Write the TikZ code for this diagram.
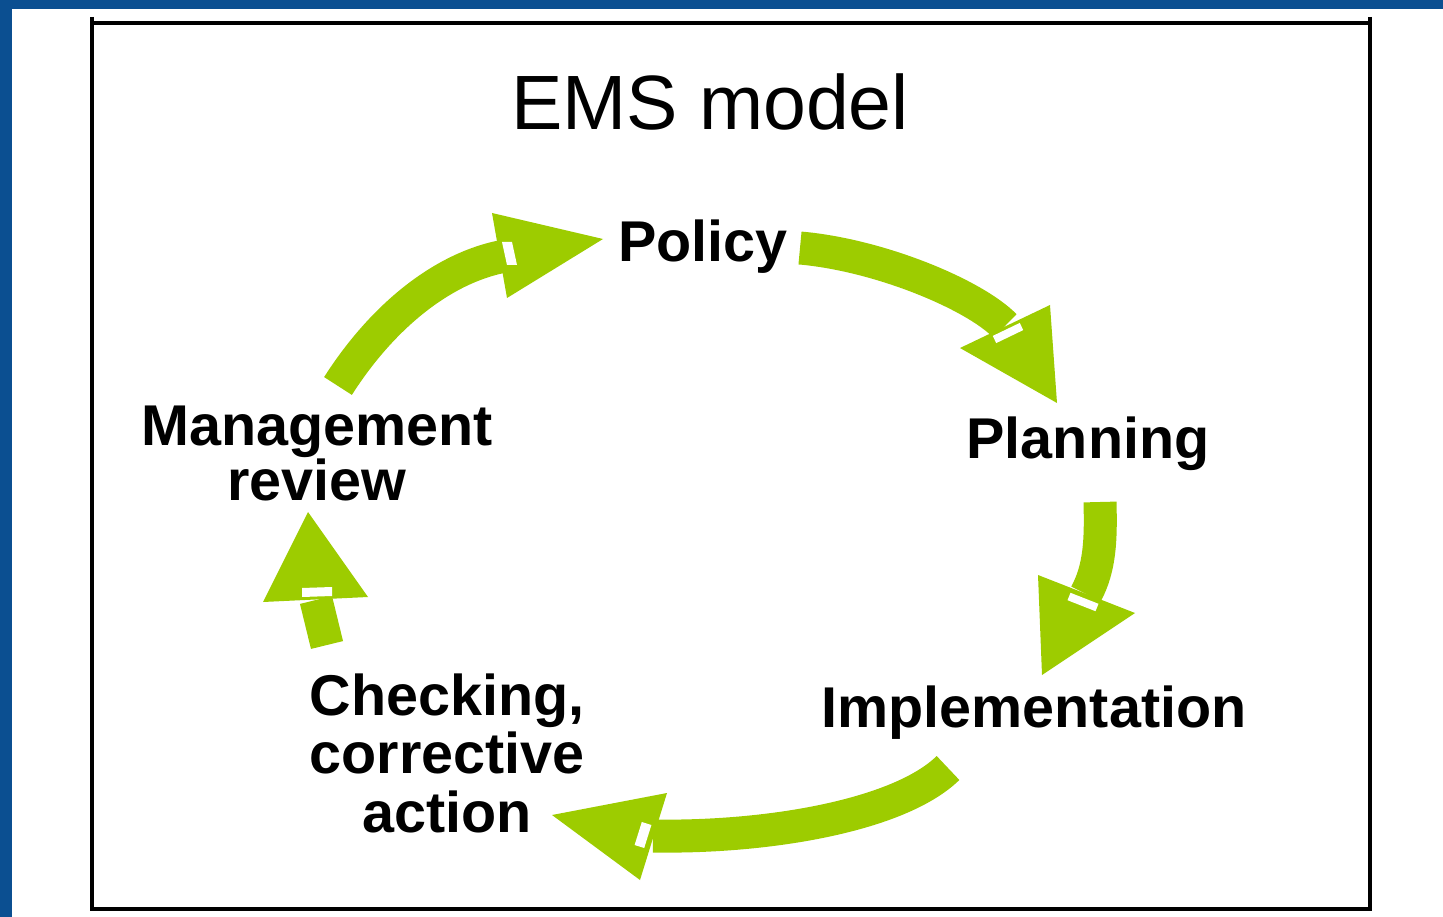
\documentclass[tikz,border=0pt]{standalone}
\usepackage{fontspec}
\setmainfont{Liberation Sans}
\definecolor{emsgreen}{RGB}{157,204,0}
\definecolor{emsblue}{RGB}{11,79,145}
\begin{document}
\begin{tikzpicture}[x=1pt,y=-1pt,
  lbl/.style={font=\fontsize{57.5}{58.5}\selectfont\bfseries, inner sep=0pt, align=center},
  shaft/.style={draw=emsgreen, line width=33pt},
  head/.style={fill=emsgreen},
  notch/.style={fill=white}]
\useasboundingbox (0,0) rectangle (1443,917);
\fill[emsblue] (0,0) rectangle (1443,9);
\fill[emsblue] (0,0) rectangle (12,917);
\draw[line width=4pt] (92,23) rectangle (1370,909);
\draw[line width=4pt] (92,17) -- (92,23) (1370,17) -- (1370,23);

\node[font=\fontsize{77}{77}\selectfont, inner sep=0pt, anchor=base] (title) at (710,130) {EMS model};
\node[lbl, anchor=base] (policy) at (703,262) {Policy};
\node[lbl, anchor=base] (planning) at (1088,458) {Planning};
\node[lbl, anchor=base] (impl) at (1034,727) {Implementation};
\node[lbl, font=\fontsize{57.5}{55}\selectfont\bfseries, anchor=base] (mgmt) at (317,500) {Management\\review};
\node[lbl, anchor=base] (check) at (447,832) {Checking,\\corrective\\action};

% arrow 1: review -> policy
\coordinate (a1s) at (338,386);
\coordinate (a1e) at (505,256);
\draw[shaft] (a1s) .. controls (380,320) and (440,268) .. (a1e);
\fill[head] (492,213) -- (603,239) -- (507,298) -- cycle;
\fill[notch] (502,242) -- (512,242) -- (517,265) -- (507,265) -- cycle;

% arrow 2: policy -> planning
\coordinate (a2s) at (800,248);
\coordinate (a2e) at (1005,326);
\draw[shaft] (a2s) .. controls (880,255) and (975,295) .. (a2e);
\fill[head] (960,348) -- (1050,305) -- (1057,403) -- cycle;
\fill[notch] (992.8,335.9) -- (1019.8,322.9) -- (1023.2,330.1) -- (996.2,343.1) -- cycle;

% arrow 3: planning -> implementation
\coordinate (a3s) at (1100,502);
\coordinate (a3e) at (1086,594);
\draw[shaft] (a3s) .. controls (1101,540) and (1100,568) .. (a3e);
\fill[head] (1038,575) -- (1135,613) -- (1042,675) -- cycle;
\fill[notch] (1070.5,592.8) -- (1098.5,603.8) -- (1095.5,611.2) -- (1067.5,600.2) -- cycle;

% arrow 4: implementation -> checking
\coordinate (a4s) at (948,768);
\coordinate (a4e) at (653,836);
\draw[shaft] (a4s) .. controls (900,815) and (770,838) .. (a4e);
\fill[head] (667,793) -- (552,815) -- (640,880) -- cycle;
\fill[notch] (641.8,822) -- (651.4,825) -- (644.2,848) -- (634.6,845) -- cycle;

% arrow 5: checking -> review
\coordinate (a5s) at (327,645);
\coordinate (a5e) at (316,600);
\draw[shaft] (a5s) -- (a5e);
\fill[head] (308,512) -- (368,597) -- (263,602) -- cycle;
\fill[notch] (302,588) -- (332,587) -- (332,596) -- (302,597) -- cycle;
\end{tikzpicture}
\end{document}
